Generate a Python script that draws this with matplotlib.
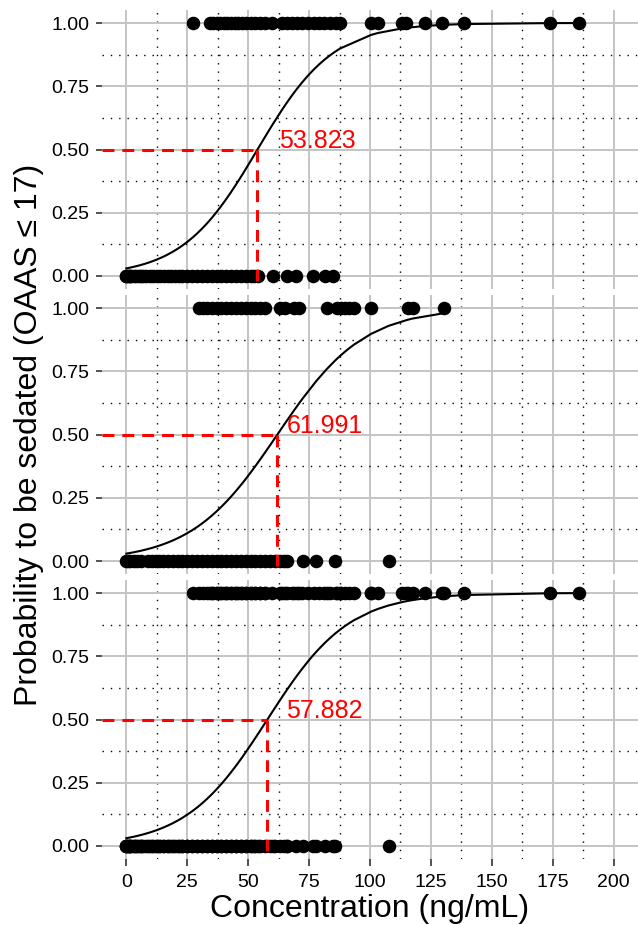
import numpy as np
import matplotlib
matplotlib.use("Agg")
import matplotlib.pyplot as plt
from matplotlib.ticker import MultipleLocator

plt.rcParams['font.family'] = ['Liberation Sans', 'DejaVu Sans']

# concentrations (ng/mL), two cohorts; bottom panel pools them
a_sedated = [27.2, 34.2, 35.5, 37, 38.5, 40, 41.5, 43, 44.5, 46, 47.5, 49, 51, 53, 55, 57,
             59.6, 63.9, 66, 68, 70, 72, 74.5, 77, 79, 81, 83.5, 86, 87.8, 100.5, 103.4,
             113.3, 114.7, 122.4, 129.5, 138.7, 173.9, 185.9]
a_awake = [0, 0, 0.5, 1, 1.5, 2, 3, 4, 5, 6, 7, 8, 9.5, 11, 12.5, 14, 15.5, 17, 18.5, 20,
           21.5, 23, 25, 27, 29, 31, 33, 35, 37, 39, 41, 43, 45, 47, 49, 51, 52.5, 54,
           60.3, 66, 69.5, 76.5, 81.5, 85]
b_sedated = [30, 31.5, 33, 35, 37, 39, 41, 43, 45, 47, 49, 51, 53, 55, 56.8, 63.2, 65, 69,
             70.9, 82.2, 86.4, 88, 89.9, 91.5, 93.5, 100.5, 115.4, 117.5, 130.2]
b_awake = [0, 0.5, 1.5, 3, 4.5, 6, 8.8, 10.5, 12, 13.5, 15, 17, 19, 21, 23, 25, 27, 29, 31,
           33, 35, 37, 39, 41, 43, 45, 47, 49, 51, 53, 55, 57, 59, 61, 63, 64.5, 66, 72.3,
           78, 85.7, 107.6]

# fitted logistic models: EC50 and scale per panel
ec50 = [53.823, 61.991, 57.882]
scale = [15.5, 17.7, 16.8]
label_x = [62.8, 65.7, 65.7]

panels = [
    (a_sedated, a_awake),
    (b_sedated, b_awake),
    (a_sedated + b_sedated, a_awake + b_awake),
]

W, H = 638, 925
fig = plt.figure(figsize=(W / 100, H / 100), dpi=100)

tops = [10.35, 295.35, 580.35]
ph = 278.3
left_px = 102

for i, (sed, awk) in enumerate(panels):
    ax = fig.add_axes([left_px / W, 1 - (tops[i] + ph) / H, (W - left_px) / W, ph / H])
    ax.set_xlim(-10, 210)
    ax.set_ylim(-0.05, 1.05)
    for s in ax.spines.values():
        s.set_visible(False)

    ax.xaxis.set_major_locator(MultipleLocator(25))
    ax.xaxis.set_minor_locator(MultipleLocator(12.5))
    ax.yaxis.set_major_locator(MultipleLocator(0.25))
    ax.yaxis.set_minor_locator(MultipleLocator(0.125))
    ax.grid(which='minor', color='black', linewidth=1.0, linestyle=(0, (1, 5)), zorder=0)
    ax.grid(which='major', color='#c4c4c4', linewidth=1.4, zorder=0)
    ax.set_axisbelow(True)

    ax.tick_params(which='minor', length=0)
    ax.tick_params(which='major', length=4, width=1.2, color='#333333',
                   labelsize=14, labelcolor='black', pad=5)
    ax.yaxis.set_major_formatter(matplotlib.ticker.FormatStrFormatter('%.2f'))
    if i < 2:
        ax.tick_params(axis='x', which='major', length=0, labelbottom=False)
    else:
        ax.tick_params(axis='x', length=5, pad=6)

    x_all = np.array(sed + awk, dtype=float)
    y_all = np.r_[np.ones(len(sed)), np.zeros(len(awk))]
    ax.scatter(x_all, y_all, s=95, color='black', zorder=3, linewidths=0)

    xs = np.unique(x_all)
    ps = 1 / (1 + np.exp(-(xs - ec50[i]) / scale[i]))
    ax.plot(xs, ps, color='black', lw=1.5, zorder=4)

    ax.plot([-10, ec50[i]], [0.5, 0.5], color='red', lw=2.2, dashes=(3.9, 2.6), zorder=5)
    ax.plot([ec50[i], ec50[i]], [0.5, -0.05], color='red', lw=2.2, dashes=(3.9, 2.6), zorder=5)
    ax.text(label_x[i], 0.505, f"{ec50[i]:.3f}", color='red', fontsize=18,
            ha='left', va='baseline', zorder=6)

fig.text(29 / W, 1 - 434.5 / H, "Probability to be sedated (OAAS \u2264 17)",
         rotation=90, ha='center', va='center', fontsize=23)
fig.text((left_px + (W - left_px) * 110 / 220) / W,
         1 - 909 / H, "Concentration (ng/mL)", ha='center', va='center', fontsize=23)

fig.savefig("out.png", dpi=100)
